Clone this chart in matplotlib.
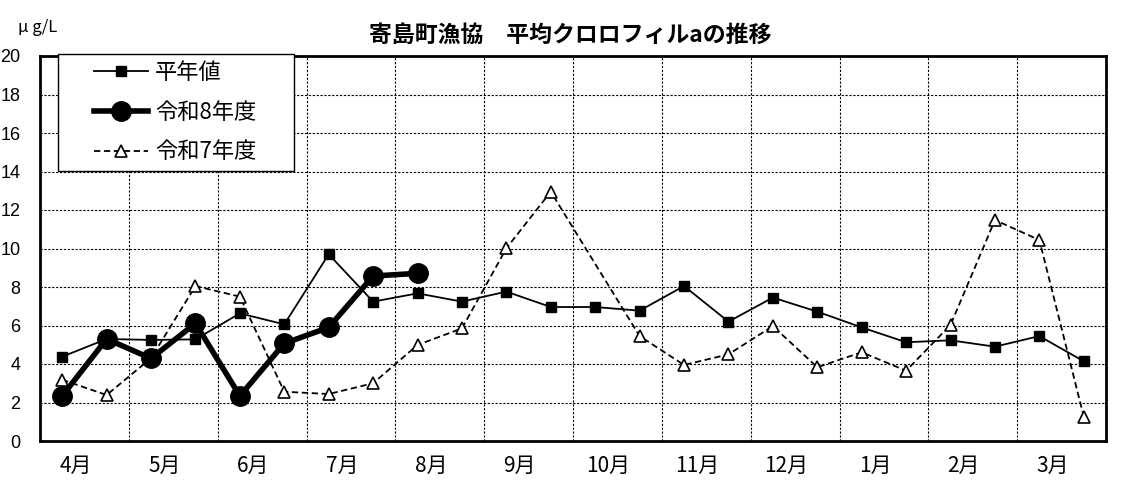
import numpy as np
import matplotlib.pyplot as plt
from matplotlib.patches import Rectangle

plt.rcParams['font.family'] = ['Noto Sans CJK JP', 'DejaVu Sans']

# 24 points (first/second half of each month)
months = ['4月', '5月', '6月', '7月', '8月', '9月', '10月', '11月', '12月', '1月', '2月', '3月']

heinen = [4.38, 5.30, 5.25, 5.28, 6.63, 6.06, 9.70, 7.24, 7.67, 7.24, 7.76, 6.96,
          6.96, 6.77, 8.05, 6.20, 7.45, 6.72, 5.90, 5.13, 5.23, 4.90, 5.45, 4.14]
reiwa8 = [2.34, 5.30, 4.29, 6.11, 2.34, 5.07, 5.90, 8.57, 8.71]
reiwa7 = [3.18, 2.39, 4.30, 8.05, 7.50, 2.56, 2.44, 3.00, 4.99, 5.85, 10.01, 12.95,
          np.nan, 5.45, 3.95, 4.50, 5.97, 3.83, 4.61, 3.65, 6.03, 11.48, 10.44, 1.26]

x_all = np.arange(24)
W, H = 1129, 497

fig = plt.figure(figsize=(W/100, H/100), dpi=100)
ax = fig.add_axes([40/W, 1-441/H, 1066/W, 385/H])

l1, = ax.plot(x_all, heinen, color='black', lw=1.3, marker='s', markersize=7,
              label='平年値', zorder=3)
l2, = ax.plot(np.arange(len(reiwa8)), reiwa8, color='black', lw=4, marker='o',
              markersize=14, label='令和8年度', zorder=4)
# 令和7年度: skip missing value but keep line connected
r7 = np.array(reiwa7)
ok = ~np.isnan(r7)
l3, = ax.plot(x_all[ok], r7[ok], color='black', lw=1.3, ls=(0, (3.5, 2)), marker='^',
              markersize=9, markerfacecolor='white', markeredgecolor='black',
              markeredgewidth=1.2, label='令和7年度', zorder=3)

ax.set_xlim(-0.5, 23.5)
ax.set_ylim(0, 20)
ax.set_yticks(np.arange(0, 21, 2))
ax.set_xticks(np.arange(12) * 2 + 0.3)
ax.set_xticklabels(months, fontsize=15)
ax.set_xticks(np.arange(1, 12) * 2 - 0.5, minor=True)
ax.tick_params(axis='both', which='both', length=0)
ax.tick_params(axis='x', pad=10)
ax.tick_params(axis='y', pad=14, labelsize=13)
for lab in ax.get_yticklabels():
    lab.set_family(['Liberation Sans', 'DejaVu Sans'])

ax.grid(True, which='major', axis='y', color='black', ls=(0, (2, 1.5)), lw=0.8)
ax.grid(True, which='minor', axis='x', color='black', ls=(0, (2, 1.5)), lw=0.8)
for s in ax.spines.values():
    s.set_linewidth(2)

fig.text(570/W, 1-35/H, '寄島町漁協　平均クロロフィルaの推移', fontsize=16.5,
         fontweight='bold', ha='center', va='center')
fig.text(18/W, 1-28/H, 'μ g/L', fontsize=12, va='center', ha='left')

# legend box
fig.add_artist(Rectangle((58/W, 1-171/H), 236/W, 117/H, transform=fig.transFigure,
                         facecolor='white', edgecolor='black', lw=1, zorder=2))
leg = fig.legend(handles=[l1, l2, l3], loc='upper left', bbox_to_anchor=(94/W, 1-61/H),
                 fontsize=16, frameon=False, handlelength=2.45, handletextpad=0.3,
                 borderpad=0, labelspacing=0.75, borderaxespad=0)
leg.set_zorder(5)

fig.savefig('out.png', dpi=100)
